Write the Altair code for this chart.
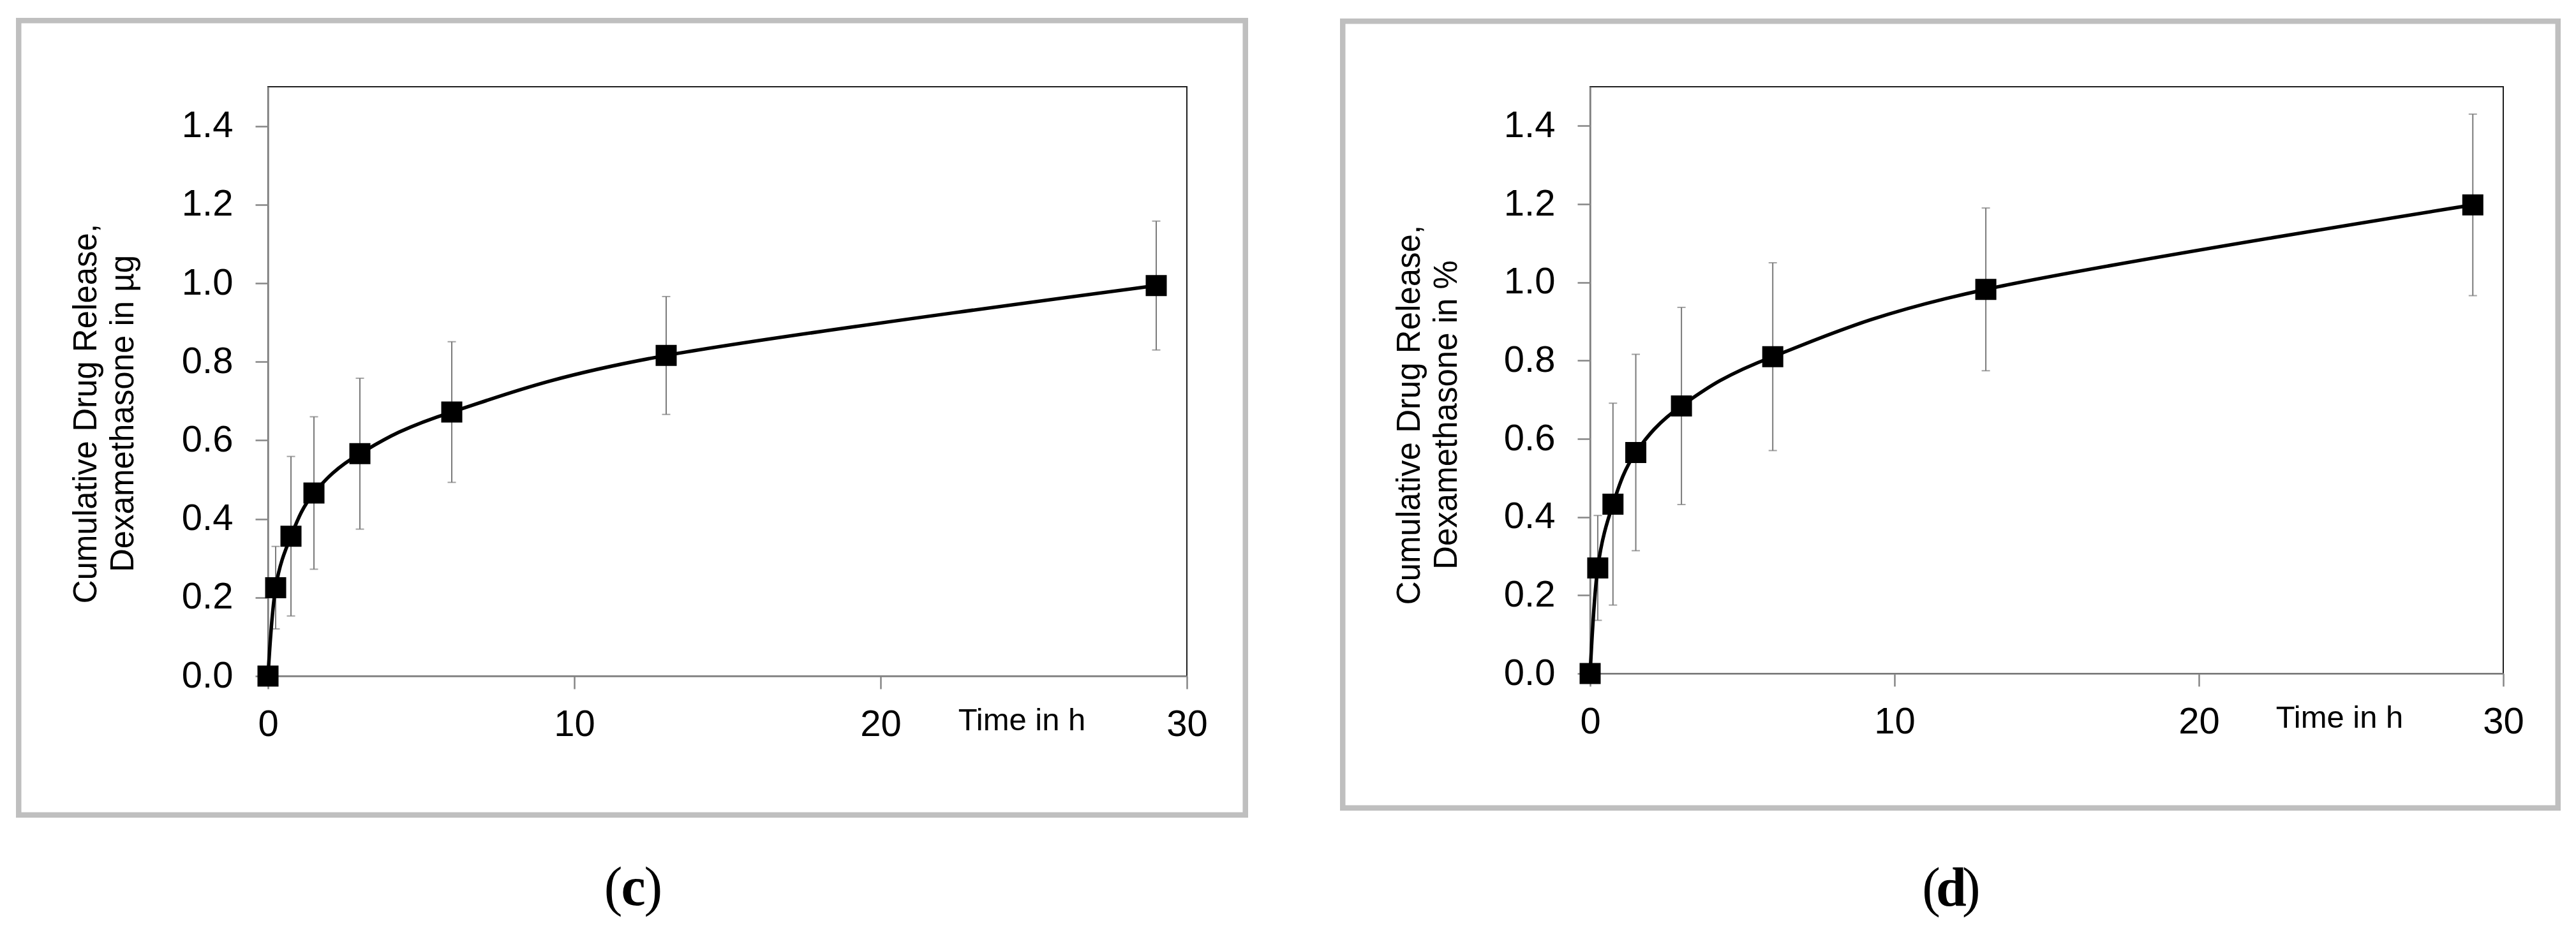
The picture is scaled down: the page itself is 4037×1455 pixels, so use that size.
import altair as alt
import pandas as pd

# Sampling times (h)
time_h = [0, 0.25, 0.75, 1.5, 3, 6, 13, 29]

# (c) cumulative release in µg, mean and standard deviation
release_ug = [0.0, 0.225, 0.356, 0.466, 0.566, 0.672, 0.816, 0.994]
sd_ug = [0.0, 0.105, 0.203, 0.194, 0.192, 0.179, 0.150, 0.164]

# (d) cumulative release in %, mean and standard deviation
release_pct = [0.0, 0.270, 0.433, 0.565, 0.684, 0.810, 0.982, 1.198]
sd_pct = [0.0, 0.134, 0.258, 0.251, 0.252, 0.240, 0.208, 0.232]

y_ticks = [0.0, 0.2, 0.4, 0.6, 0.8, 1.0, 1.2, 1.4]
x_ticks = [0, 10, 20, 30]

FRAME_GREY = "#bfbfbf"
AXIS_GREY = "#868686"
ERR_GREY = "#7a7a7a"
SANS = "Liberation Sans"
SERIF = "Liberation Serif"


def panel(values, sds, y_title, letter, w, h, frame, ytitle_xy, xtitle_xy, letter_xy):
    df = pd.DataFrame({"t": time_h, "v": values, "sd": sds})
    df["lo"] = df["v"] - df["sd"]
    df["hi"] = df["v"] + df["sd"]

    x_scale = alt.Scale(domain=[0, 30], nice=False, zero=True)
    y_scale = alt.Scale(domain=[0, 1.5], nice=False, zero=True)
    x_axis = alt.Axis(
        values=x_ticks, title="Time in h", labelFlush=False, labelOverlap=False,
        labelPadding=27, titleX=xtitle_xy[0], titleY=xtitle_xy[1],
        titleAlign="center", titleBaseline="alphabetic", titleAngle=0,
        titleFontSize=49,
    )
    y_axis = alt.Axis(
        values=y_ticks, format=".1f", title=y_title, labelOverlap=False,
        labelPadding=35, titleX=ytitle_xy[0], titleY=ytitle_xy[1],
        titleAlign="center", titleBaseline="middle", titleAngle=270,
        titleLineHeight=58, titleFontSize=51,
    )
    x_enc = alt.X("t:Q", scale=x_scale, axis=x_axis)

    base = alt.Chart(df)
    bars = base.transform_filter("datum.sd > 0")

    # error bars: vertical whisker plus short caps at both ends
    err = bars.mark_rule(color=ERR_GREY, strokeWidth=2).encode(
        x=x_enc, y=alt.Y("lo:Q", scale=y_scale, axis=y_axis), y2="hi:Q"
    )
    cap_lo = bars.mark_tick(orient="horizontal", size=13, thickness=2, color=ERR_GREY).encode(
        x=x_enc, y=alt.Y("lo:Q", scale=y_scale, axis=y_axis)
    )
    cap_hi = bars.mark_tick(orient="horizontal", size=13, thickness=2, color=ERR_GREY).encode(
        x=x_enc, y=alt.Y("hi:Q", scale=y_scale, axis=y_axis)
    )
    curve = base.mark_line(color="black", strokeWidth=5.5, interpolate="cardinal").encode(
        x=x_enc, y=alt.Y("v:Q", scale=y_scale, axis=y_axis)
    )
    squares = base.mark_point(shape="square", filled=True, size=1089, color="black", opacity=1).encode(
        x=x_enc, y=alt.Y("v:Q", scale=y_scale, axis=y_axis)
    )

    # grey frame around the whole panel
    one = alt.Data(values=[{}])
    box = alt.Chart(one).mark_rect(
        fillOpacity=0, stroke=FRAME_GREY, strokeWidth=8.5
    ).encode(
        x=alt.value(frame[0]), x2=alt.value(w + frame[1]),
        y=alt.value(frame[2]), y2=alt.value(h + frame[3]),
    )

    # panel letter below the frame: regular parentheses, bold letter
    lx, ly = letter_xy
    paren_l = alt.Chart(one).mark_text(
        text="(", font=SERIF, fontSize=86, align="right", baseline="alphabetic", color="black"
    ).encode(x=alt.value(lx - 15), y=alt.value(h + ly))
    mid = alt.Chart(one).mark_text(
        text=letter, font=SERIF, fontSize=86, fontWeight="bold", align="center",
        baseline="alphabetic", color="black"
    ).encode(x=alt.value(lx + 2), y=alt.value(h + ly))
    paren_r = alt.Chart(one).mark_text(
        text=")", font=SERIF, fontSize=86, align="left", baseline="alphabetic", color="black"
    ).encode(x=alt.value(lx + 19), y=alt.value(h + ly))

    return alt.layer(box, err, cap_lo, cap_hi, curve, squares, paren_l, mid, paren_r).properties(
        width=w, height=h
    )


left = panel(
    release_ug, sd_ug,
    ["Cumulative Drug Release,", "Dexamethasone in µg"], "c",
    w=1440, h=924,
    frame=(-390.75, 91.75, -103.75, 217.75),
    ytitle_xy=(-285, 512), xtitle_xy=(1181, 84), letter_xy=(570.5, 359),
)
right = panel(
    release_pct, sd_pct,
    ["Cumulative Drug Release,", "Dexamethasone in %"], "d",
    w=1431, h=920,
    frame=(-387.75, 85.75, -102.75, 210.75),
    ytitle_xy=(-283, 514), xtitle_xy=(1174, 84), letter_xy=(564, 364),
)

chart = alt.hconcat(left, right, spacing=142).properties(
    padding={"left": 24, "top": 27, "right": 10, "bottom": 10},
    background="white",
).configure_view(
    stroke="#1e1e1e", strokeWidth=2
).configure_axis(
    grid=False,
    domainColor=AXIS_GREY, domainWidth=2.5,
    tickColor=AXIS_GREY, tickWidth=2.5, tickSize=20,
    labelFont=SANS, labelFontSize=58, labelColor="black",
    titleFont=SANS, titleFontWeight="normal", titleColor="black",
)

chart.save("out.html", embed_options={"renderer": "svg", "actions": False})
